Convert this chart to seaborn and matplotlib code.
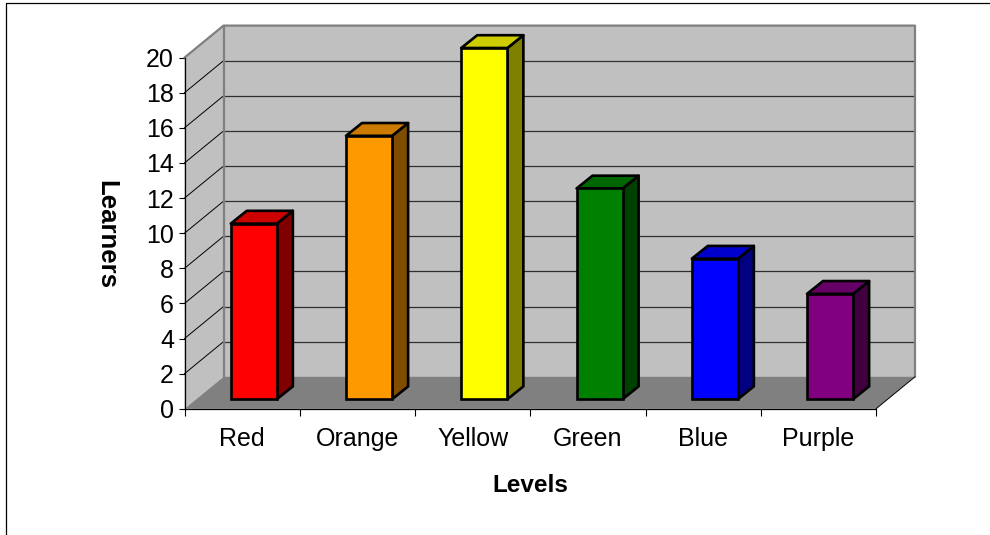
import matplotlib
matplotlib.use("Agg")
import matplotlib.pyplot as plt
import numpy as np
import seaborn as sns
from matplotlib.colors import to_rgb
from matplotlib.lines import Line2D

levels = ["Red", "Orange", "Yellow", "Green", "Blue", "Purple"]
learners = [10, 15, 20, 12, 8, 6]
bar_colors = ["#FF0000", "#FF9900", "#FFFF00", "#008000", "#0000FF", "#800080"]
y_ticks = list(range(0, 21, 2))

W, H = 990, 535
sns.set_theme(style="white")
plt.rcParams["font.family"] = ["Liberation Sans", "DejaVu Sans"]

fig = plt.figure(figsize=(W / 100, H / 100), dpi=100, facecolor="white")
# plot box in pixels, front plane of the fake 3d chart
left, right, top, bottom = 184.5, 876, 57.6, 408.8
ax = fig.add_axes([left / W, 1 - bottom / H, (right - left) / W, (bottom - top) / H])
ax.patch.set_alpha(0)

sns.barplot(x=levels, y=learners, hue=levels, palette=bar_colors, saturation=1,
            width=0.4, legend=False, edgecolor="black", linewidth=1.9, zorder=4, ax=ax)

x0, x1 = -0.5, len(levels) - 0.5
y0, y1 = 0, 20
ax.set_xlim(x0, x1)
ax.set_ylim(y0, y1)

# depth of the box in data units
dx = 39 / ((right - left) / len(levels))
dy = 32 / ((bottom - top) / (y1 - y0))

wall = "#C0C0C0"
edge = "#808080"
# side wall, back wall, floor
ax.fill([x0, x0 + dx, x0 + dx, x0], [y0, y0 + dy, y1 + dy, y1], color=wall, lw=0, clip_on=False, zorder=0)
ax.fill([x0 + dx, x1 + dx, x1 + dx, x0 + dx], [y0 + dy, y0 + dy, y1 + dy, y1 + dy], color=wall, lw=0,
        clip_on=False, zorder=0)
ax.fill([x0, x1, x1 + dx, x0 + dx], [y0, y0, y0 + dy, y0 + dy], color=edge, lw=0, clip_on=False, zorder=0.5)

# grid lines
for v in y_ticks[1:-1]:
    ax.plot([x0, x0 + dx], [v, v + dy], color="black", lw=0.7, clip_on=False, zorder=1)
    ax.plot([x0 + dx, x1 + dx], [v + dy, v + dy], color="#303030", lw=0.9, clip_on=False, zorder=1)
ax.plot([x0, x0 + dx, x1 + dx, x1 + dx], [y1, y1 + dy, y1 + dy, y0 + dy], color=edge, lw=1.6,
        clip_on=False, zorder=1.5)
ax.plot([x0 + dx, x0 + dx], [y0 + dy, y1 + dy], color=edge, lw=1.6, clip_on=False, zorder=1.5)
ax.plot([x1, x1 + dx], [y0, y0 + dy], color="black", lw=0.7, clip_on=False, zorder=1.5)

# bars sit part way into the depth, sides and tops are sheared from the front face
for bar, color in zip(ax.patches, bar_colors):
    bar.set_x(bar.get_x() + 0.3 * dx)
    bar.set_y(0.3 * dy)
    xa, xb = bar.get_x(), bar.get_x() + bar.get_width()
    ya, yb = bar.get_y(), bar.get_y() + bar.get_height()
    ox, oy = 0.41 * dx, 0.4 * dy
    rgb = np.array(to_rgb(color))
    ax.fill([xb, xb + ox, xb + ox, xb], [ya, ya + oy, yb + oy, yb], facecolor=rgb * 0.5, edgecolor="black",
            lw=1.9, joinstyle="round", clip_on=False, zorder=3)
    ax.fill([xa, xb, xb + ox, xa + ox], [yb, yb, yb + oy, yb + oy], facecolor=rgb * 0.8, edgecolor="black",
            lw=1.9, joinstyle="round", clip_on=False, zorder=3)
    bar.set_clip_on(False)

# ticks at category edges, labels in the middle
ax.set_xticks(np.arange(len(levels) + 1) - 0.5, [""] * (len(levels) + 1))
ax.set_xticks(np.arange(len(levels)), levels, minor=True)
ax.set_yticks(y_ticks)
ax.tick_params(axis="x", which="major", length=5, width=0.8, color="black", bottom=True)
ax.tick_params(axis="x", which="minor", length=0, pad=13, labelsize=18, labelcolor="black")
ax.tick_params(axis="y", length=4.5, width=0.8, color="black", left=True, pad=3, labelsize=18, labelcolor="black")

sns.despine(ax=ax)
for side in ["left", "bottom"]:
    ax.spines[side].set_color("black")
    ax.spines[side].set_linewidth(0.9)
    ax.spines[side].set_zorder(2)

fig.text(530 / W, 1 - 485 / H, "Levels", fontsize=17.5, fontweight="bold", color="black", ha="center", va="center")
fig.text(106 / W, 1 - 234 / H, "Learners", fontsize=18.5, fontweight="bold", color="black", rotation=-90,
         ha="center", va="center")

# chart area border, only top and left show in the crop
fig.add_artist(Line2D([6 / W, 6 / W, 1], [0, 1 - 2.5 / H, 1 - 2.5 / H], color="black", lw=0.9))

fig.savefig("out.png", dpi=100)
